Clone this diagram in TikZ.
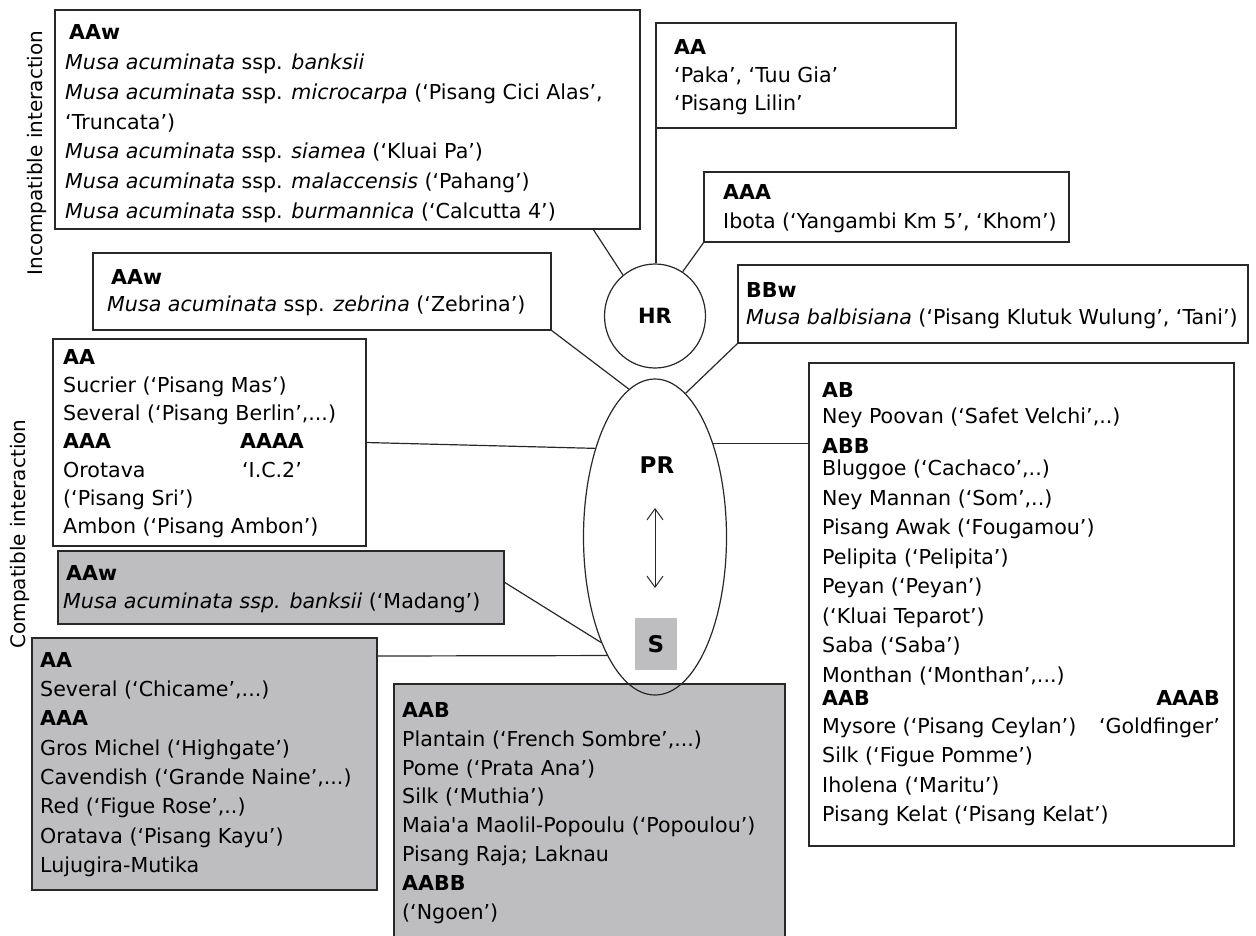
\documentclass[tikz,border=0pt]{standalone}
\usepackage{fontspec}
\setmainfont{DejaVu Sans}
\newfontfamily\plainfont{DejaVu Sans}
\usetikzlibrary{arrows.meta,shapes.geometric,calc}
\definecolor{boxgray}{RGB}{190,190,192}
\definecolor{edge}{RGB}{40,40,40}
\newcommand\fs[1]{\fontsize{20.6}{#1}\selectfont}
\newcommand\zz{\strut}
\begin{document}
\begin{tikzpicture}[x=1pt,y=-1pt,
  box/.style={draw=edge, line width=1.3pt, anchor=north west, inner sep=0pt, outer sep=0pt},
  gbox/.style={box, fill=boxgray},
  txt/.style={anchor=north west, inner sep=0pt, align=left},
  link/.style={draw=edge, line width=1.2pt},
  blob/.style={draw=edge, line width=1.2pt, ellipse, inner sep=0pt},
  big/.style={font=\fontsize{23}{26}\selectfont\bfseries},
  barb/.style={{Straight Barb[length=11pt,width=16pt]}-{Straight Barb[length=11pt,width=16pt]}}
]
\useasboundingbox (0,0) rectangle (1256,935);

% boxes
\node[box,  minimum width=585pt, minimum height=219pt] (b1) at (55,10) {};
\node[box,  minimum width=300pt, minimum height=105pt] (b2) at (656,23) {};
\node[box,  minimum width=365pt, minimum height=70pt]  (b3) at (704,172) {};
\node[box,  minimum width=510pt, minimum height=78pt]  (b4) at (738,265) {};
\node[box,  minimum width=458pt, minimum height=77pt]  (b5) at (93,253) {};
\node[box,  minimum width=313pt, minimum height=207pt] (b6) at (53,339) {};
\node[gbox, minimum width=446pt, minimum height=73pt]  (b7) at (58,551) {};
\node[gbox, minimum width=345pt, minimum height=252pt] (b8) at (32,638) {};
\node[gbox, minimum width=391pt, minimum height=280pt] (b9) at (394,684) {};
\node[box,  minimum width=425pt, minimum height=483pt] (b10) at (809,363) {};

% centre shapes
\node[blob, minimum width=101pt, minimum height=104pt, font=\fontsize{21}{24}\selectfont\bfseries] (hr) at (655,316) {HR};
\node[blob, minimum width=143pt, minimum height=316pt] (pr) at (655,537) {};
\node[big] (prl) at (657,465) {PR};
\node[fill=boxgray, minimum width=42pt, minimum height=52pt, inner sep=0pt, big] (s) at (656,644) {S};
\coordinate (ua) at (655,508);
\coordinate (da) at (655,588);
\draw[link, line width=1pt, barb] (ua) -- (da);

% connectors
\draw[link] ($(b1.south west)+(538,0)$) -- (hr.128);
\draw[link] (b2.south west) -- (b2.south west |- hr.north);
\draw[link] (b3.south west) -- (hr.58);
\draw[link] (b5.south east) -- (pr.100);
\draw[link] (b4.south west) -- (pr.78);
\draw[link] (b6.east) -- (pr.124);
\draw[link] (pr.58) -- (pr.58 -| b10.west);
\draw[link] ($(b7.north east)+(0,31)$) -- (pr.-117);
\draw[link] ($(b8.north east)+(0,18)$) -- (pr.-112);

% side labels
\node[rotate=90, anchor=base, font=\fontsize{20}{24}\selectfont] (inc) at (42,153) {Incompatible interaction};
\node[rotate=90, anchor=base, font=\fontsize{20}{24}\selectfont] (comp) at (25.5,534) {Compatible interaction};

% texts
\node[txt, font=\fs{29.8}] (t1) at (65,18.64) {\zz\hspace{4pt}\textbf{AAw}\\
\zz\textit{Musa acuminata} ssp. \textit{banksii}\\
\zz\textit{Musa acuminata} ssp. \textit{microcarpa} (‘Pisang Cici Alas’,\\
\zz‘Truncata’)\\
\zz\textit{Musa acuminata} ssp. \textit{siamea} (‘Kluai Pa’)\\
\zz\textit{Musa acuminata} ssp. \textit{malaccensis} (‘Pahang’)\\
\zz\textit{Musa acuminata} ssp. \textit{burmannica} (‘Calcutta 4’)};

\node[txt, font=\fs{28}] (t2) at (674,34.4) {\zz\textbf{AA}\\
\zz‘Paka’, ‘Tuu Gia’\\
\zz‘Pisang Lilin’};

\node[txt, font=\fs{29}] (t3) at (723,178.7) {\zz\textbf{AAA}\\
\zz Ibota (‘Yangambi Km 5’, ‘Khom’)};

\node[txt, font=\fs{27.5}] (t4) at (746,277.75) {\zz\textbf{BBw}\\
\zz\textit{Musa balbisiana} (‘Pisang Klutuk Wulung’, ‘Tani’)};

\node[txt, font=\fs{27.5}] (t5) at (107,264.75) {\zz\hspace{4pt}\textbf{AAw}\\
\zz\textit{Musa acuminata} ssp. \textit{zebrina} (‘Zebrina’)};

\node[txt, font=\fs{28.2}] (t6) at (63,344.26) {\zz\textbf{AA}\\
\zz Sucrier (‘Pisang Mas’)\\
\zz Several (‘Pisang Berlin’,...)\\
\zz\textbf{AAA}\\
\zz Orotava\\
\zz(‘Pisang Sri’)\\
\zz Ambon (‘Pisang Ambon’)};
\node[txt, anchor=north, align=center, font=\fs{28.2}] (t6b) at (272,428.86) {\zz\textbf{AAAA}\\
\zz‘I.C.2’};

\node[txt, font=\fs{28}] (t7) at (63,560.4) {\zz\hspace{3pt}\textbf{AAw}\\
\zz\textit{Musa acuminata ssp. banksii} (‘Madang’)};

\node[txt, font=\fs{29.3}] (t8) at (40,646.49) {\zz\textbf{AA}\\
\zz Several (‘Chicame’,...)\\
\zz\textbf{AAA}\\
\zz Gros Michel (‘Highgate’)\\
\zz Cavendish (‘Grande Naine’,...)\\
\zz Red (‘Figue Rose’,..)\\
\zz Oratava (‘Pisang Kayu’)\\
\zz Lujugira-Mutika};

\node[txt, font=\fs{28.9}] (t9) at (402,696.77) {\zz\textbf{AAB}\\
\zz Plantain (‘French Sombre’,...)\\
\zz Pome (‘Prata Ana’)\\
\zz Silk (‘Muthia’)\\
\zz Maia{\plainfont\symbol{39}}a Maolil-Popoulu (‘Popoulou’)\\
\zz Pisang Raja; Laknau\\
\zz\textbf{AABB}\\
\zz(‘Ngoen’)};

\node[txt, font=\fs{29.5}] (t10) at (822,376.35) {\zz\textbf{AB}\\[-3pt]
\zz Ney Poovan (‘Safet Velchi’,..)\\
\zz\textbf{ABB}\\[-7pt]
\zz Bluggoe (‘Cachaco’,..)\\
\zz Ney Mannan (‘Som’,..)\\
\zz Pisang Awak (‘Fougamou’)\\
\zz Pelipita (‘Pelipita’)\\
\zz Peyan (‘Peyan’)\\
\zz(‘Kluai Teparot’)\\
\zz Saba (‘Saba’)\\
\zz Monthan (‘Monthan’,...)\\[-6pt]
\zz\textbf{AAB}\\[-2pt]
\zz Mysore (‘Pisang Ceylan’)\\
\zz Silk (‘Figue Pomme’)\\
\zz Iholena (‘Maritu’)\\
\zz Pisang Kelat (‘Pisang Kelat’)};
\node[txt, anchor=north east, align=right, font=\fs{29.5}] (t10b) at (1220,684.85) {\zz\textbf{AAAB}\\[-2pt]
\zz‘Goldfinger’};
\end{tikzpicture}
\end{document}
